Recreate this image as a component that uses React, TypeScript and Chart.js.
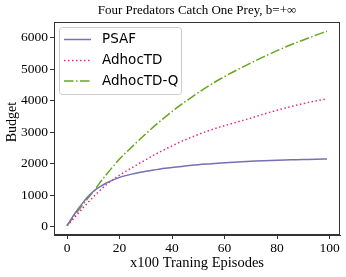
import React, { useEffect, useRef } from "react";
import { Chart, registerables } from "chart.js";

Chart.register(...registerables);

const titleText = "Four Predators Catch One Prey, b=+∞";
const xTitle = "x100 Traning Episodes";
const yTitle = "Budget";
const xTicks = [0, 20, 40, 60, 80, 100];
const yTicks = [0, 1000, 2000, 3000, 4000, 5000, 6000];

const episodes = [0, 2, 4, 6, 8, 10, 12, 15, 20, 25, 30, 35, 40, 45, 50, 55, 60, 65, 70, 75, 80, 85, 90, 95, 99];
const psaf = [40, 300, 540, 760, 960, 1120, 1240, 1390, 1570, 1680, 1760, 1830, 1880, 1930, 1970, 2000, 2030, 2060, 2080, 2100, 2115, 2125, 2135, 2145, 2150];
const adhocTD = [30, 210, 400, 590, 770, 950, 1110, 1340, 1640, 1890, 2130, 2360, 2570, 2760, 2930, 3080, 3210, 3330, 3450, 3580, 3700, 3810, 3910, 4000, 4060];
const adhocTDQ = [40, 260, 480, 700, 910, 1110, 1340, 1660, 2150, 2560, 2950, 3320, 3660, 3970, 4260, 4530, 4770, 4990, 5200, 5400, 5590, 5770, 5930, 6090, 6210];

const seriesNames = ["PSAF", "AdhocTD", "AdhocTD-Q"];
const seriesColors = ["#7570b3", "#e7298a", "#66a61e"];
const seriesDashes = [[], [1.5, 2.5], [9.6, 2.4, 1.5, 2.4]];

const SERIF = "'Liberation Serif', 'Times New Roman', serif";
const SANS = "'DejaVu Sans', sans-serif";

const decorPlugin = {
  id: "decor",
  afterDraw(chart: any) {
    const { ctx, chartArea } = chart;
    const { left, right, top, bottom } = chartArea;
    ctx.save();
    ctx.strokeStyle = "#333";
    ctx.lineWidth = 1;
    ctx.setLineDash([]);
    ctx.strokeRect(left + 0.5, top + 0.5, right - left - 1, bottom - top - 1);
    ctx.fillStyle = "#000";
    ctx.font = `13px ${SERIF}`;
    ctx.textAlign = "center";
    ctx.textBaseline = "middle";
    ctx.fillText(titleText, (left + right) / 2, 11);
    // y axis title
    ctx.save();
    ctx.translate(12, 122);
    ctx.rotate(-Math.PI / 2);
    ctx.font = `14px ${SERIF}`;
    ctx.fillText(yTitle, 0, 0);
    ctx.restore();
    // legend
    const bx = 59.5, by = 27.5, bw = 122, bh = 67, r = 3;
    ctx.beginPath();
    ctx.moveTo(bx + r, by);
    ctx.lineTo(bx + bw - r, by);
    ctx.arcTo(bx + bw, by, bx + bw, by + r, r);
    ctx.lineTo(bx + bw, by + bh - r);
    ctx.arcTo(bx + bw, by + bh, bx + bw - r, by + bh, r);
    ctx.lineTo(bx + r, by + bh);
    ctx.arcTo(bx, by + bh, bx, by + bh - r, r);
    ctx.lineTo(bx, by + r);
    ctx.arcTo(bx, by, bx + r, by, r);
    ctx.closePath();
    ctx.fillStyle = "rgba(255,255,255,0.8)";
    ctx.fill();
    ctx.strokeStyle = "#cccccc";
    ctx.stroke();
    const rows = [39.5, 60.5, 81];
    ctx.font = `13.5px ${SANS}`;
    ctx.textAlign = "left";
    ctx.textBaseline = "middle";
    seriesNames.forEach((name, i) => {
      ctx.beginPath();
      ctx.strokeStyle = seriesColors[i];
      ctx.lineWidth = 1.5;
      ctx.setLineDash(seriesDashes[i]);
      ctx.moveTo(64, rows[i]);
      ctx.lineTo(91, rows[i]);
      ctx.stroke();
      ctx.setLineDash([]);
      ctx.fillStyle = "#000";
      ctx.fillText(name, 102, rows[i]);
    });
    ctx.restore();
  },
};

export default function App() {
  const ref = useRef<HTMLCanvasElement>(null);
  useEffect(() => {
    if (!ref.current) return;
    const series = [psaf, adhocTD, adhocTDQ];
    const chart = new Chart(ref.current, {
      type: "line",
      data: {
        datasets: series.map((vals, i) => ({
          label: seriesNames[i],
          data: episodes.map((x, j) => ({ x, y: vals[j] })),
          borderColor: seriesColors[i],
          backgroundColor: seriesColors[i],
          borderWidth: 1.5,
          borderDash: seriesDashes[i],
          borderCapStyle: "butt",
          pointRadius: 0,
          cubicInterpolationMode: "monotone",
          fill: false,
        })),
      },
      options: {
        animation: false,
        responsive: false,
        maintainAspectRatio: false,
        events: [],
        layout: { padding: { top: 22, right: 6, left: 0, bottom: 0 } },
        plugins: { legend: { display: false }, title: { display: false }, tooltip: { enabled: false } },
        scales: {
          x: {
            type: "linear",
            min: -4.95,
            max: 103.95,
            afterBuildTicks: (s: any) => {
              s.ticks = xTicks.map((v) => ({ value: v }));
            },
            afterFit: (s: any) => {
              s.height = 42;
            },
            ticks: { font: { family: SERIF, size: 13.5 }, color: "#000", padding: 1, maxRotation: 0, callback: (v: any) => String(v) },
            grid: { display: true, drawOnChartArea: false, drawTicks: true, tickLength: 4, tickColor: "#333" },
            border: { display: true, color: "#333", width: 1 },
            title: { display: true, text: xTitle, font: { family: SERIF, size: 14.5 }, color: "#000", padding: { top: 0, bottom: 5 } },
          },
          y: {
            type: "linear",
            min: -260,
            max: 6500,
            afterBuildTicks: (s: any) => {
              s.ticks = yTicks.map((v) => ({ value: v }));
            },
            afterFit: (s: any) => {
              s.width = 54;
            },
            ticks: { font: { family: SERIF, size: 13.5 }, color: "#000", padding: 2, callback: (v: any) => String(v) },
            grid: { display: true, drawOnChartArea: false, drawTicks: true, tickLength: 4, tickColor: "#333" },
            border: { display: true, color: "#333", width: 1 },
            title: { display: false },
          },
        },
      },
      plugins: [decorPlugin],
    } as any);
    return () => chart.destroy();
  }, []);
  return (
    <div style={{ position: "absolute", left: 0, top: 0, width: 346, height: 277, background: "#fff" }}>
      <canvas ref={ref} width={346} height={277} style={{ width: 346, height: 277, display: "block" }} />
    </div>
  );
}
